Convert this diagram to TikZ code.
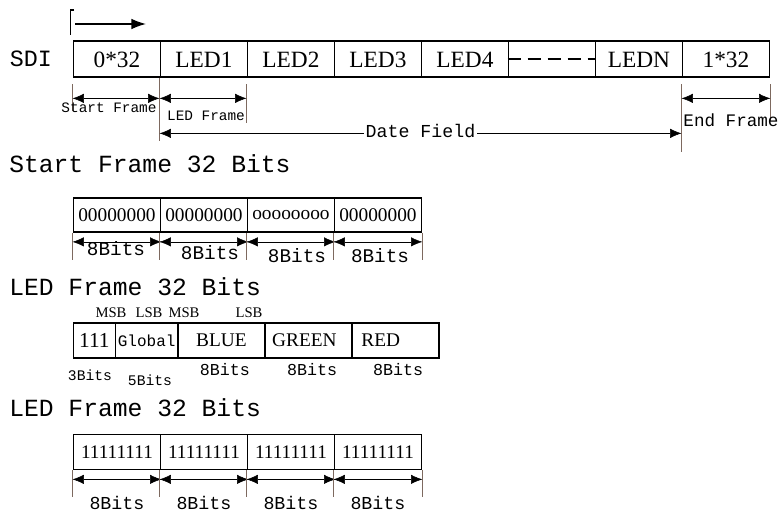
\documentclass[tikz,border=0pt]{standalone}
\usepackage{fontspec}
\setmainfont{Liberation Mono}
\newfontfamily\serif{Liberation Serif}
\usetikzlibrary{arrows.meta,calc,positioning}
\definecolor{tickgray}{RGB}{125,105,95}

\begin{document}
\begin{tikzpicture}[
 x=0.75pt,y=-0.75pt,
 cell/.style={
  draw=black,
  line width=1.4pt,
  anchor=north west,
  inner sep=0pt,
  minimum width=65.25pt
 },
 head/.style={anchor=west,inner sep=0pt,font=\fontsize{18.5}{20}\selectfont},
 dim/.style={{Latex[length=8.5pt,width=7pt]}-{Latex[length=8.5pt,width=7pt]},thin},
 tick/.style={draw=tickgray,thin},
 bits/.style={inner sep=0pt,font=\fontsize{14.5}{15}\selectfont}
]
 \useasboundingbox (0,0) rectangle (781,513);

 % direction of data
 \coordinate (dirA) at (75,24);
 \coordinate (dirB) at (146,24);
 \draw[-{Latex[length=11pt,width=8pt]},line width=1pt] (dirA) -- (dirB);
 \draw[line width=0.8pt] (74,10) -- (70.5,10) -- (70.5,35);

 % SDI stream
 \node[font=\fontsize{17.5}{18}\selectfont] (sdi) at (31,59) {SDI};
 \foreach \t [count=\i from 0] in {0*32,LED1,LED2,LED3,LED4,{},LEDN,1*32}
  \node[cell,minimum height=27pt,font=\serif\fontsize{17.5}{18}\selectfont]
   (m\i) at (72.5+87*\i,40.5) {\t};
 \draw[line width=1.4pt,dash pattern=on 10pt off 5pt] (m5.west) -- (m5.east);

 \draw[tick] ($(m0.south west)+(0,6)$) -- ++(0,27);
 \draw[tick] (m1.south west) -- ++(0,63);
 \draw[tick] ($(m2.south west)+(0,6)$) -- ++(0,39);
 \draw[tick] ($(m7.south west)+(0,6)$) -- ++(0,68);
 \draw[tick] ($(m7.south east)+(0,6)$) -- ++(0,37);
 \draw[dim] ($(m0.south west)+(0,20)$) -- ($(m1.south west)+(0,20)$);
 \draw[dim] ($(m1.south west)+(0,20)$) -- ($(m2.south west)+(0,20)$);
 \draw[dim] ($(m7.south west)+(0,20)$) -- ($(m7.south east)+(0,20)$);
 \draw[dim] ($(m1.south west)+(0,55)$) --
  node[fill=white,inner sep=1pt,yshift=1.5pt,font=\fontsize{13.7}{14}\selectfont] (df) {Date Field}
  ($(m7.south west)+(0,55)$);
 \node[inner sep=0pt,font=\fontsize{10.8}{11}\selectfont] (sf) at (109,108) {Start Frame};
 \node[inner sep=0pt,font=\fontsize{10.8}{11}\selectfont] (lf) at (206,116) {LED Frame};
 \node[inner sep=0pt,font=\fontsize{13.2}{14}\selectfont] (ef) at (731,120) {End Frame};

 % start frame
 \node[head] (h1) at (9,164) {Start Frame 32 Bits};
 \foreach \t [count=\i from 0] in {00000000,00000000,oooooooo,00000000}
  \node[cell,minimum height=25.5pt,font=\serif\fontsize{14.5}{15}\selectfont]
   (s\i) at (72.5+87*\i,197) {\t};
 \foreach \i in {0,...,3} {
  \draw[tick] (s\i.south west) -- ++(0,27);
  \draw[dim] ($(s\i.south west)+(0,9)$) -- ($(s\i.south east)+(0,9)$);
 }
 \draw[tick] (s3.south east) -- ++(0,27);
 \foreach \x/\y [count=\i from 0] in {116/249,210/253,297/256,380/256}
  \node[bits] (sb\i) at (\x,\y) {8Bits};

 % LED frame
 \node[head] (h2) at (9,287) {LED Frame 32 Bits};
 \node[cell,minimum height=26.25pt,minimum width=31.5pt,font=\serif\fontsize{16}{16}\selectfont]
  (l0) at (72.5,322) {\raisebox{-2pt}{111}};
 \node[cell,minimum height=26.25pt,minimum width=46.9pt,font=\fontsize{12}{13}\selectfont]
  (l1) at (114.5,322) {Global};
 \node[cell,minimum height=26.25pt,font=\serif\fontsize{14.5}{15}\selectfont]
  (l2) at (177,322) {BLUE};
 \node[cell,minimum height=26.25pt,font=\serif\fontsize{14.5}{15}\selectfont]
  (l3) at (264,322) {\kern-6pt GREEN};
 \node[cell,minimum height=26.25pt,font=\serif\fontsize{14.5}{15}\selectfont]
  (l4) at (351,322) {RED\kern22pt};
 \foreach \t/\x [count=\i] in {MSB/111,LSB/149,MSB/184,LSB/249}
  \node[inner sep=0pt,font=\serif\fontsize{11}{11}\selectfont] (sig\i) at (\x,313) {\t};
 \node[bits,font=\fontsize{11}{11}\selectfont] (b3) at (90,375) {3Bits};
 \node[bits,font=\fontsize{11}{11}\selectfont] (b5) at (150,380) {5Bits};
 \foreach \x [count=\i] in {225,312,398}
  \node[bits,font=\fontsize{12.5}{13}\selectfont] (lb\i) at (\x,370) {8Bits};

 % end frame
 \node[head] (h3) at (9,408) {LED Frame 32 Bits};
 \foreach \i in {0,...,3}
  \node[cell,minimum height=26.25pt,font=\serif\fontsize{14.4}{15}\selectfont]
   (f\i) at (72.5+87*\i,433.5) {11111111};
 \foreach \i in {0,...,3} {
  \draw[tick] (f\i.south west) -- ++(0,27);
  \draw[dim] ($(f\i.south west)+(0,9)$) -- ($(f\i.south east)+(0,9)$);
  \node[bits,font=\fontsize{13.7}{14}\selectfont,below=19pt of f\i] (fb\i) {8Bits};
 }
 \draw[tick] (f3.south east) -- ++(0,27);
\end{tikzpicture}
\end{document}
